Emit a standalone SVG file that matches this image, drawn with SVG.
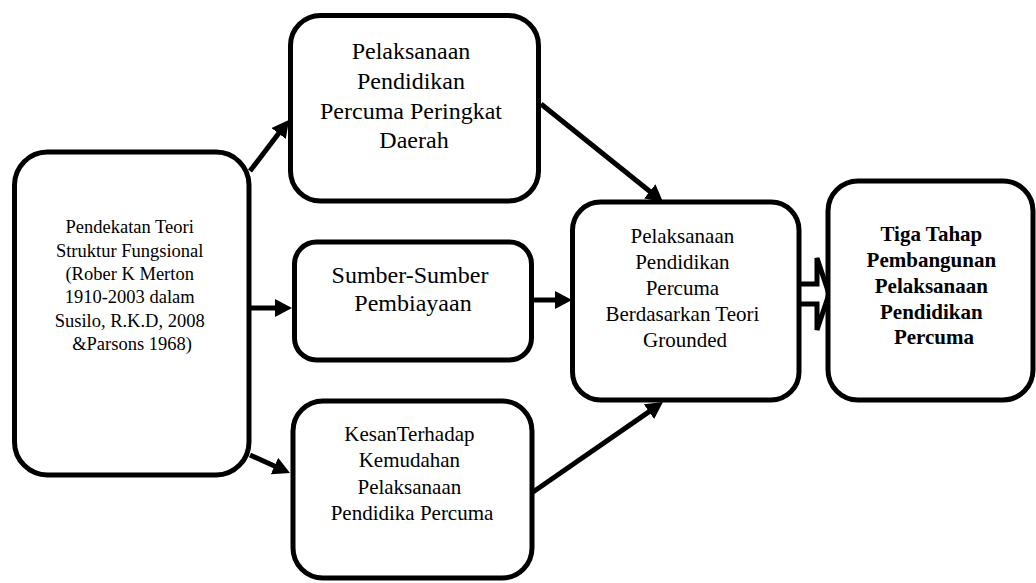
<svg xmlns="http://www.w3.org/2000/svg" width="1036" height="583" viewBox="0 0 1036 583">
  <style>
    .box { fill: #fff; stroke: #000; stroke-width: 5; }
    .t { font-family: "Liberation Serif", "Times New Roman", serif; fill: #000; text-anchor: middle; }
    .conn { stroke: #000; stroke-width: 5; fill: none; marker-end: url(#ah); }
  </style>
  <defs>
    <marker id="ah" markerUnits="userSpaceOnUse" markerWidth="18" markerHeight="19" refX="9" refY="9" orient="auto">
      <path d="M0,0 L17,9 L0,18 z" fill="#000"/>
    </marker>
  </defs>
  <rect width="1036" height="583" fill="#fff"/>
  <g id="connectors">
    <path class="conn" d="M250,171 L284.1,126.3"/>
    <path class="conn" d="M249,308 L284,308"/>
    <path class="conn" d="M250,455 L282.7,469.7"/>
    <path class="conn" d="M541,104 L656.8,197"/>
    <path class="conn" d="M533,300 L564,300"/>
    <path class="conn" d="M533,492 L656.4,406.6"/>
    <path d="M797,284 H817 V258 L829,294 L817,330 V304 H797" fill="#fff" stroke="#000" stroke-width="5" stroke-linejoin="miter"/>
  </g>
  <g id="node-left">
    <rect class="box" x="14.5" y="152" width="234.5" height="323" rx="33"/>
    <text class="t" font-size="18.5" x="132">
      <tspan x="132" y="233">Pendekatan Teori</tspan>
      <tspan x="132" y="256.5">Struktur Fungsional</tspan>
      <tspan x="132" y="280">(Rober K Merton</tspan>
      <tspan x="132" y="303">1910-2003 dalam</tspan>
      <tspan x="132" y="327">Susilo, R.K.D, 2008</tspan>
      <tspan x="132" y="350">&amp;Parsons 1968)</tspan>
    </text>
  </g>
  <g id="node-top">
    <rect class="box" x="290.5" y="15.5" width="248" height="185.5" rx="30"/>
    <text class="t" font-size="24">
      <tspan x="414" y="59">Pelaksanaan</tspan>
      <tspan x="414" y="89">Pendidikan</tspan>
      <tspan x="414" y="119">Percuma Peringkat</tspan>
      <tspan x="414" y="148">Daerah</tspan>
    </text>
  </g>
  <g id="node-sumber">
    <rect class="box" x="294.5" y="242" width="237" height="118" rx="22"/>
    <text class="t" font-size="24">
      <tspan x="413" y="283">Sumber-Sumber</tspan>
      <tspan x="413" y="311">Pembiayaan</tspan>
    </text>
  </g>
  <g id="node-kesan">
    <rect class="box" x="293" y="401" width="239" height="177" rx="30"/>
    <text class="t" font-size="21">
      <tspan x="412" y="441">KesanTerhadap</tspan>
      <tspan x="412" y="467">Kemudahan</tspan>
      <tspan x="412" y="494">Pelaksanaan</tspan>
      <tspan x="412" y="520">Pendidika Percuma</tspan>
    </text>
  </g>
  <g id="node-center">
    <rect class="box" x="572.5" y="202" width="226.5" height="198" rx="28"/>
    <text class="t" font-size="21">
      <tspan x="685" y="243">Pelaksanaan</tspan>
      <tspan x="685" y="269">Pendidikan</tspan>
      <tspan x="685" y="295">Percuma</tspan>
      <tspan x="685" y="321">Berdasarkan Teori</tspan>
      <tspan x="685" y="347">Grounded</tspan>
    </text>
  </g>
  <g id="node-right">
    <rect class="box" x="828" y="181" width="205" height="219" rx="30"/>
    <text class="t" font-size="21" font-weight="bold">
      <tspan x="934" y="241">Tiga Tahap</tspan>
      <tspan x="934" y="267">Pembangunan</tspan>
      <tspan x="934" y="293">Pelaksanaan</tspan>
      <tspan x="934" y="319">Pendidikan</tspan>
      <tspan x="934" y="344">Percuma</tspan>
    </text>
  </g>
</svg>
